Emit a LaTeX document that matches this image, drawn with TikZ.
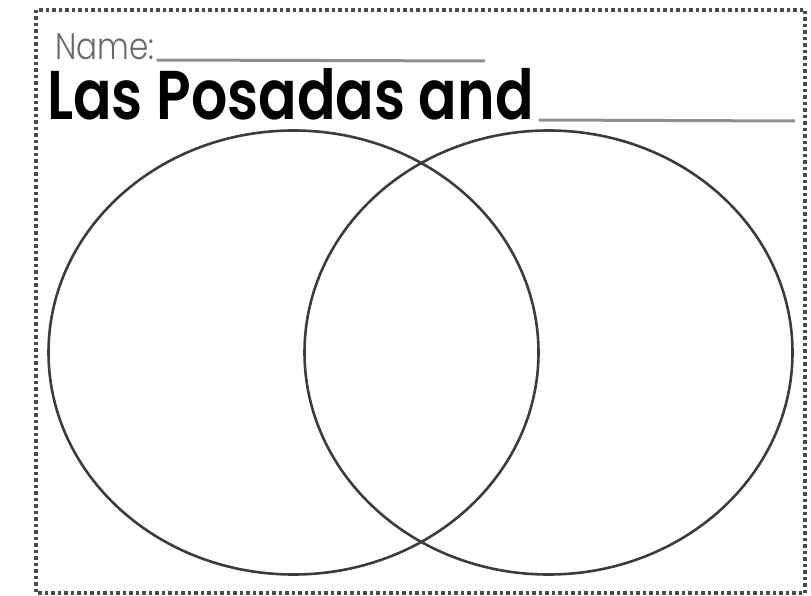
\documentclass[tikz,border=0pt]{standalone}
\usepackage{fontspec}
\setmainfont{Poppins}
\newfontfamily\titlefont{Poppins SemiBold}
\newfontfamily\namefont{Poppins Light}
\usepackage{tikz}
\usetikzlibrary{positioning}
\definecolor{vnLine}{HTML}{3C3C3C}
\definecolor{vnRule}{HTML}{8E8E8E}
\definecolor{vnName}{HTML}{6A6A6A}
\definecolor{vnFrame}{HTML}{4A4A4A}

\begin{document}
\begin{tikzpicture}[x=1pt,y=-1pt,
    frame/.style={draw=vnFrame,line width=3.4pt,dash pattern=on 3.5pt off 3pt},
    ring/.style={draw=vnLine,line width=2.6pt},
    blank/.style={draw=vnRule,line width=3pt}]
    \useasboundingbox (0,0) rectangle (811,596);
    \draw[frame] (36,10) rectangle (805,593);
    % heading
    \node[anchor=base west,inner sep=0,text=vnName,font=\namefont\fontsize{37}{40}\selectfont] (name) at (55,60) {\scalebox{0.84}[1]{Name:}};
    \node[anchor=base west,inner sep=0,font=\titlefont\fontsize{69}{72}\selectfont] (title) at (47,120) {\scalebox{0.825}[1]{Las Posadas and}};
    \coordinate (nameEnd) at (485,61);
    \coordinate (titleEnd) at (795,121);
    \draw[blank] ([xshift=2pt]name.base east) -- (nameEnd);
    \draw[blank] ([xshift=5pt]title.base east) -- (titleEnd);
    % the two rings
    \draw[ring] (293.5,352.5) ellipse [x radius=245pt,y radius=222pt];
    \draw[ring] (548.5,352.5) ellipse [x radius=244pt,y radius=222pt];
  \end{tikzpicture}
\end{document}
